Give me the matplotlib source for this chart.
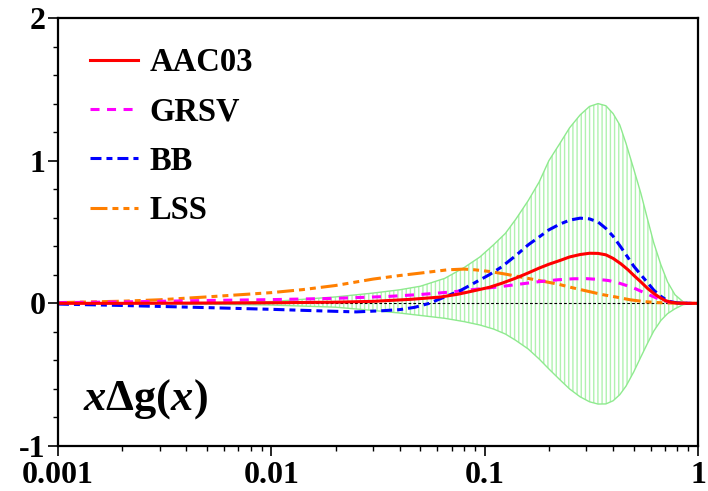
import matplotlib
matplotlib.use("Agg")
import matplotlib.pyplot as plt
from matplotlib.ticker import FixedLocator, MultipleLocator, NullFormatter, LogLocator

# uncertainty band of AAC03
band_x  = [0.001, 0.002, 0.005, 0.01, 0.02, 0.03, 0.04, 0.05, 0.065, 0.08, 0.095, 0.11, 0.125,
           0.14, 0.16, 0.18, 0.2, 0.225, 0.25, 0.28, 0.31, 0.34, 0.37, 0.4, 0.43, 0.46, 0.5,
           0.54, 0.58, 0.62, 0.67, 0.72, 0.78, 0.85, 0.92, 1.0]
band_hi = [0.0, 0.002, 0.005, 0.012, 0.045, 0.072, 0.095, 0.12, 0.175, 0.25, 0.325, 0.41, 0.49,
           0.59, 0.72, 0.85, 1.0, 1.12, 1.23, 1.32, 1.38, 1.40, 1.385, 1.33, 1.25, 1.12, 0.94,
           0.77, 0.59, 0.425, 0.27, 0.15, 0.06, 0.012, 0.002, 0.0]
band_lo = [0.0, -0.002, -0.006, -0.012, -0.027, -0.05, -0.068, -0.085, -0.105, -0.128, -0.152, -0.18, -0.215,
           -0.26, -0.32, -0.39, -0.46, -0.535, -0.6, -0.655, -0.69, -0.706, -0.705, -0.683, -0.64, -0.58, -0.48,
           -0.375, -0.28, -0.195, -0.12, -0.072, -0.038, -0.01, -0.002, 0.0]

aac_x = [0.001, 0.002, 0.005, 0.01, 0.02, 0.03, 0.045, 0.062, 0.075, 0.089, 0.105, 0.12, 0.14,
         0.16, 0.18, 0.2, 0.225, 0.25, 0.28, 0.31, 0.34, 0.37, 0.4, 0.435, 0.47, 0.5, 0.54,
         0.58, 0.62, 0.66, 0.7, 0.75, 0.8, 0.9, 1.0]
aac_y = [0.0, 0.0, 0.002, 0.004, 0.008, 0.014, 0.028, 0.044, 0.064, 0.088, 0.112, 0.14, 0.177,
         0.213, 0.247, 0.274, 0.30, 0.325, 0.342, 0.351, 0.35, 0.34, 0.315, 0.277, 0.235, 0.196, 0.15,
         0.105, 0.07, 0.042, 0.02, 0.007, 0.002, 0.0, 0.0]

grsv_x = [0.001, 0.002, 0.005, 0.01, 0.02, 0.035, 0.05, 0.069, 0.09, 0.12, 0.15, 0.18, 0.22,
          0.26, 0.3, 0.34, 0.38, 0.42, 0.46, 0.5, 0.54, 0.6, 0.65, 0.72, 0.8, 0.9, 1.0]
grsv_y = [0.005, 0.01, 0.02, 0.026, 0.035, 0.048, 0.062, 0.079, 0.098, 0.118, 0.137, 0.152, 0.165,
          0.172, 0.173, 0.168, 0.16, 0.145, 0.126, 0.108, 0.085, 0.055, 0.033, 0.012, 0.003, 0.0, 0.0]

bb_x = [0.001, 0.002, 0.005, 0.01, 0.014, 0.02, 0.025, 0.033, 0.04, 0.047, 0.055, 0.065, 0.077,
        0.09, 0.105, 0.12, 0.14, 0.16, 0.18, 0.2, 0.225, 0.25, 0.28, 0.31, 0.34, 0.37, 0.4,
        0.435, 0.47, 0.5, 0.54, 0.58, 0.62, 0.66, 0.7, 0.75, 0.8, 0.9, 1.0]
bb_y = [-0.005, -0.015, -0.03, -0.042, -0.049, -0.056, -0.06, -0.052, -0.044, -0.028, 0.0, 0.045, 0.09,
        0.145, 0.2, 0.255, 0.335, 0.41, 0.465, 0.515, 0.555, 0.583, 0.597, 0.592, 0.57, 0.525, 0.47,
        0.394, 0.32, 0.26, 0.2, 0.145, 0.093, 0.056, 0.03, 0.01, 0.003, 0.0, 0.0]

lss_x = [0.001, 0.002, 0.003, 0.005, 0.01, 0.014, 0.02, 0.03, 0.04, 0.05, 0.067, 0.08, 0.09,
         0.107, 0.125, 0.153, 0.18, 0.22, 0.26, 0.31, 0.36, 0.41, 0.48, 0.56, 0.65, 0.75, 0.85, 1.0]
lss_y = [0.005, 0.015, 0.025, 0.045, 0.075, 0.096, 0.125, 0.17, 0.195, 0.212, 0.235, 0.24, 0.235,
         0.222, 0.205, 0.18, 0.16, 0.135, 0.108, 0.082, 0.06, 0.045, 0.025, 0.012, 0.005, 0.002, 0.0, 0.0]

plt.rcParams['font.family'] = ['Liberation Serif', 'DejaVu Serif']
plt.rcParams['font.weight'] = 'bold'
plt.rcParams['mathtext.fontset'] = 'custom'
plt.rcParams['mathtext.rm'] = 'Liberation Serif:bold'
plt.rcParams['mathtext.it'] = 'Liberation Serif:italic:bold'
plt.rcParams['mathtext.bf'] = 'Liberation Serif:bold'
plt.rcParams['lines.scale_dashes'] = False
plt.rcParams['hatch.linewidth'] = 1.0

fig = plt.figure(figsize=(7.08, 4.91), dpi=100)
ax = fig.add_axes([58/708, 45/491, 640/708, 428/491])

# band: vertical hatch plus thin edges
ax.fill_between(band_x, band_lo, band_hi, facecolor='none', edgecolor='#b0f2b0',
                hatch='||||', linewidth=0)
ax.plot(band_x, band_hi, color='#8eea8e', lw=1)
ax.plot(band_x, band_lo, color='#8eea8e', lw=1)

ax.axhline(0, color='k', lw=0.8, dashes=(2, 1.5))

lw = 2.2
ax.plot(lss_x, lss_y, color='#ff7f00', lw=lw, dashes=(12.2, 3.6, 4.3, 3.6, 4.3, 3.6), label='LSS')
ax.plot(grsv_x, grsv_y, color='#ff00ff', lw=lw, dashes=(6.5, 5.4), label='GRSV')
ax.plot(bb_x, bb_y, color='#0000ff', lw=lw, dashes=(7.9, 3.6, 4.3, 3.6), label='BB')
ax.plot(aac_x, aac_y, color='#ff0000', lw=lw, label='AAC03')

ax.set_xscale('log')
ax.set_xlim(0.001, 1)
ax.set_ylim(-1, 2)

ax.xaxis.set_major_locator(FixedLocator([0.001, 0.01, 0.1, 1]))
ax.set_xticklabels(['0.001', '0.01', '0.1', '1'])
ax.xaxis.set_minor_locator(LogLocator(base=10, subs=range(2, 10)))
ax.xaxis.set_minor_formatter(NullFormatter())
ax.yaxis.set_major_locator(FixedLocator([-1, 0, 1, 2]))
ax.set_yticklabels(['-1', '0', '1', '2'])
ax.yaxis.set_minor_locator(MultipleLocator(0.2))

ax.tick_params(which='major', direction='out', length=7, width=1.2, labelsize=23, pad=2)
ax.tick_params(axis='x', which='major', pad=4)
ax.tick_params(which='minor', direction='out', length=3.5, width=1.0)
ax.tick_params(top=False, right=False, which='both')
for s in ax.spines.values():
    s.set_linewidth(1.6)

h, l = ax.get_legend_handles_labels()
order = [3, 1, 2, 0]
ax.legend([h[i] for i in order], [l[i] for i in order], loc='upper left',
          bbox_to_anchor=(0.05, 0.932), borderaxespad=0, borderpad=0, frameon=False,
          fontsize=23.5, handlelength=1.47, handletextpad=0.35, labelspacing=0.56)

ax.text(0.039, 0.086, r'$x\Delta\mathrm{g}(x)$', transform=ax.transAxes,
        fontsize=32, ha='left', va='baseline')

fig.savefig('out.png', dpi=100)
